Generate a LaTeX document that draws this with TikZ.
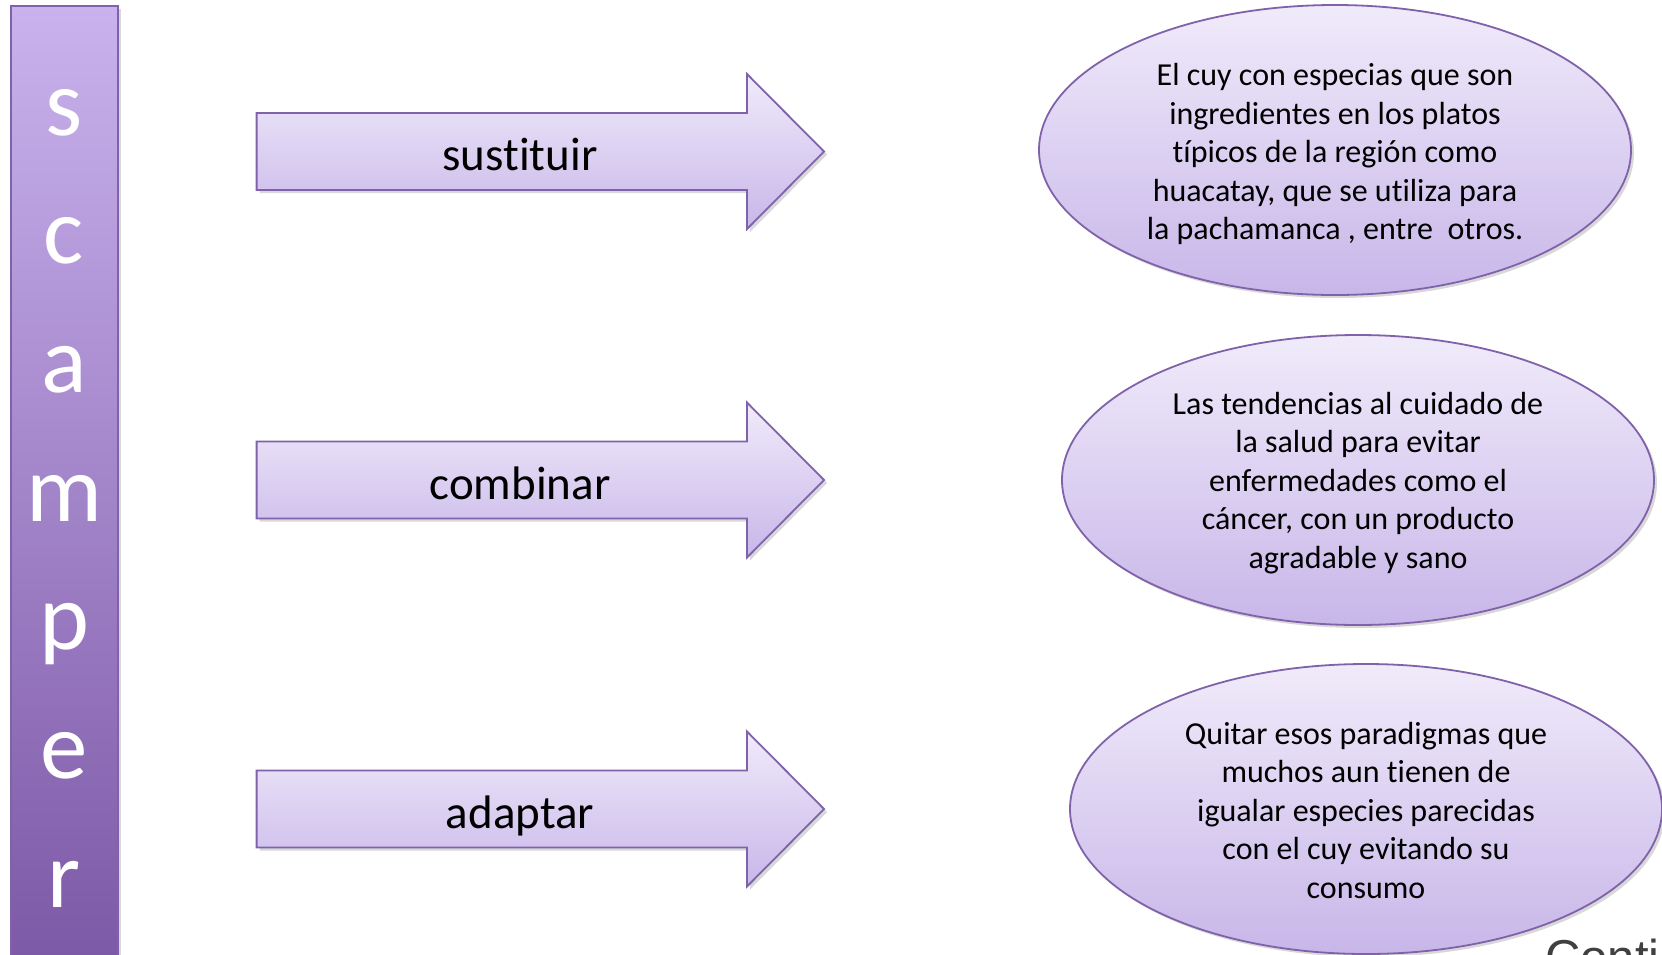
\documentclass[tikz,border=0pt]{standalone}
\usepackage{fontspec}
\setmainfont{Carlito}[RawFeature={-liga;-clig;-calt;-dlig}]
\newfontfamily\arialf{Liberation Sans}
\usetikzlibrary{shapes.geometric,shadows}
\definecolor{barTop}{RGB}{201,178,237}
\definecolor{barBot}{RGB}{124,88,166}
\definecolor{edgeC}{RGB}{128,98,170}
\definecolor{lightTop}{RGB}{240,235,250}
\definecolor{lightBot}{RGB}{200,182,233}
\tikzset{
  softshadow/.style={drop shadow={shadow xshift=3pt,shadow yshift=-3pt,opacity=0.25,fill=black!60}},
  arrowshape/.style={softshadow,draw=edgeC,line width=1.8pt,top color=lightTop,bottom color=lightBot,line join=miter},
  arrowtext/.style={font=\fontsize{47}{56}\selectfont,text=black,anchor=base,inner sep=0pt},
  ideabox/.style={ellipse,softshadow,draw=edgeC,line width=1.8pt,top color=lightTop,bottom color=lightBot,
    minimum width=592pt,minimum height=290pt,inner sep=0pt},
  ideatext/.style={align=center,inner sep=0pt,font=\fontsize{32}{38.5}\selectfont,text=black},
  barletter/.style={font=\fontsize{95}{110}\selectfont,text=white,anchor=base,inner sep=0pt}
}
\begin{document}
\begin{tikzpicture}[x=1pt,y=-1pt]
\useasboundingbox (0,0) rectangle (1662,954);
\fill[white] (0,0) rectangle (1662,954);
% vertical bar
\path[softshadow,draw=edgeC,line width=1.8pt,top color=barTop,bottom color=barBot] (10.7,5.7) rectangle (117.7,970);
\foreach \ch/\by [count=\i] in {s/135,c/263.7,a/392.3,m/521,p/649.7,e/778.3,r/907}{
  \node[barletter] (L\i) at (64,\by) {\ch};
}
% arrows
\foreach \yc/\nm/\txt in {151.5/a1/sustituir,480/a2/combinar,809/a3/adaptar}{
  \path[arrowshape] (256.6,\yc-38.5) -- (747,\yc-38.5) -- (747,\yc-77.5) -- (824,\yc) -- (747,\yc+77.5) -- (747,\yc+38.5) -- (256.6,\yc+38.5) -- cycle;
  \node[arrowtext] (\nm) at (520,\yc+19) {\txt};
}
% ellipses
\node[ideabox] (e1) at (1335,150) {};
\node[ideatext] (t1) at (1335,154) {El cuy con especias que son\\ingredientes en los platos\\típicos de la región como\\huacatay, que se utiliza para\\la pachamanca , entre\ \ otros.};
\node[ideabox] (e2) at (1358,480) {};
\node[ideatext] (t2) at (1358,483) {Las tendencias al cuidado de\\la salud para evitar\\enfermedades como el\\cáncer, con un producto\\agradable y sano};
\node[ideabox] (e3) at (1366,809) {};
\node[ideatext] (t3) at (1366,810) {Quitar esos paradigmas que\\muchos aun tienen de\\igualar especies parecidas\\con el cuy evitando su\\consumo};
\node[font=\arialf\fontsize{49}{58}\selectfont,text=black!75,anchor=base west,inner sep=0pt] (conti) at (1545,974) {Conti};
\end{tikzpicture}
\end{document}
